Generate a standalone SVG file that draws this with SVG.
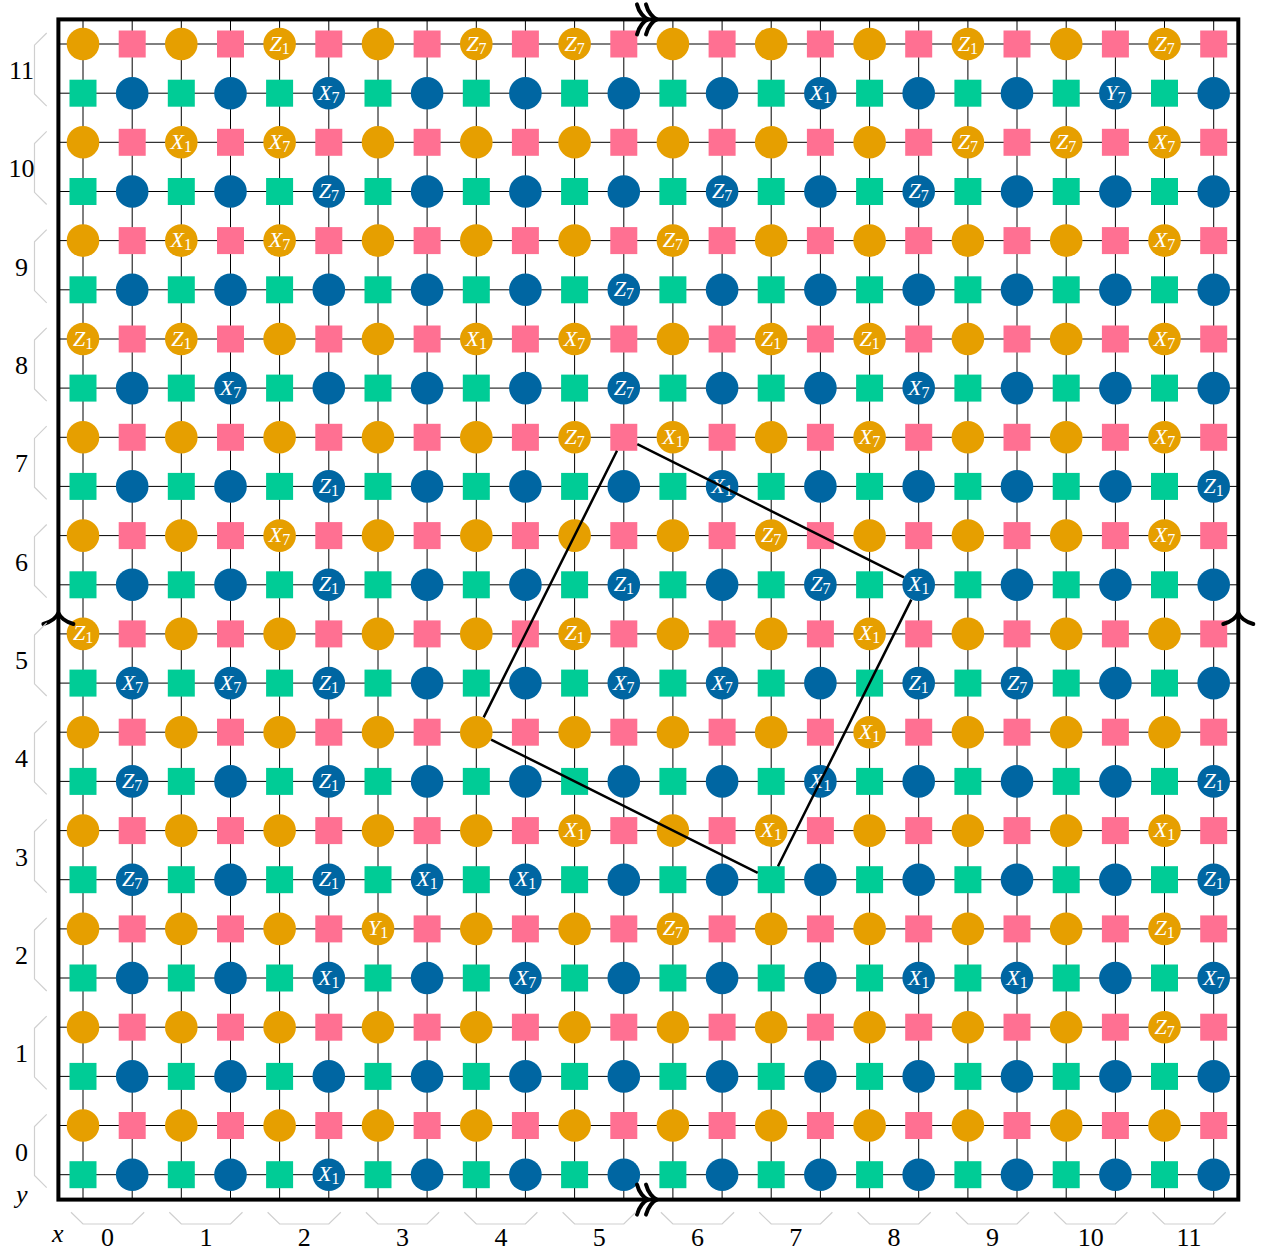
<svg xmlns="http://www.w3.org/2000/svg" xmlns:xlink="http://www.w3.org/1999/xlink" width="1261" height="1251" viewBox="0 0 1261 1251">
<style>
.gl{stroke:#000;stroke-width:1;fill:none}
.fr{stroke:#000;stroke-width:4;fill:none}
.ar{stroke:#000;stroke-width:4;fill:none;stroke-linecap:round;stroke-linejoin:round}
.cell{stroke:#000;stroke-width:2.5;fill:none}
.br{stroke:#cfcfcf;stroke-width:1.2;fill:none}
.ax{font-family:"Liberation Serif","DejaVu Serif",serif;font-size:26px;fill:#000;text-anchor:middle}
.axi{font-family:"Liberation Serif","DejaVu Serif",serif;font-size:26px;font-style:italic;fill:#000;text-anchor:middle}
text.l{font-family:"Liberation Serif","DejaVu Serif",serif;font-size:22px;font-style:italic;fill:#fff;text-anchor:middle}
text.l tspan{font-size:16px;font-style:normal}
</style>
<defs>
<circle id="A" r="16.3" fill="#E69F00"/>
<rect id="B" x="-13.5" y="-13.5" width="27" height="27" fill="#FF7092"/>
<rect id="C" x="-13.5" y="-13.5" width="27" height="27" fill="#00CC96"/>
<circle id="D" r="16.3" fill="#0066A2"/>
<path id="ah" d="M-11,-15 C-9,-7 -4,-1.5 0,0 C-4,1.5 -9,7 -11,15"/>
</defs>
<rect width="1261" height="1251" fill="#fff"/>
<g id="connectors" class="gl">
<path d="M83,19.4V1199.6M132.2,19.4V1199.6M181.3,19.4V1199.6M230.5,19.4V1199.6M279.6,19.4V1199.6M328.8,19.4V1199.6M378,19.4V1199.6M427.1,19.4V1199.6M476.3,19.4V1199.6M525.4,19.4V1199.6M574.6,19.4V1199.6M623.8,19.4V1199.6M672.9,19.4V1199.6M722.1,19.4V1199.6M771.2,19.4V1199.6M820.4,19.4V1199.6M869.6,19.4V1199.6M918.7,19.4V1199.6M967.9,19.4V1199.6M1017,19.4V1199.6M1066.2,19.4V1199.6M1115.4,19.4V1199.6M1164.5,19.4V1199.6M1213.7,19.4V1199.6"/>
<path d="M58.4,44H1238.3M58.4,93.2H1238.3M58.4,142.3H1238.3M58.4,191.5H1238.3M58.4,240.6H1238.3M58.4,289.8H1238.3M58.4,339H1238.3M58.4,388.1H1238.3M58.4,437.3H1238.3M58.4,486.4H1238.3M58.4,535.6H1238.3M58.4,584.8H1238.3M58.4,633.9H1238.3M58.4,683.1H1238.3M58.4,732.2H1238.3M58.4,781.4H1238.3M58.4,830.6H1238.3M58.4,879.7H1238.3M58.4,928.9H1238.3M58.4,978H1238.3M58.4,1027.2H1238.3M58.4,1076.4H1238.3M58.4,1125.5H1238.3M58.4,1174.7H1238.3"/>
</g>
<g id="nodes">
<g id="row0" transform="translate(0,44)">
<g id="n0-0"><use href="#A" x="83"/></g><g id="n0-1"><use href="#B" x="132.2"/></g><g id="n0-2"><use href="#A" x="181.3"/></g><g id="n0-3"><use href="#B" x="230.5"/></g>
<g id="n0-4"><use href="#A" x="279.6"/><text class="l" x="279.6" y="6.5">Z<tspan dy="3">1</tspan></text></g><g id="n0-5"><use href="#B" x="328.8"/></g><g id="n0-6"><use href="#A" x="378"/></g><g id="n0-7"><use href="#B" x="427.1"/></g>
<g id="n0-8"><use href="#A" x="476.3"/><text class="l" x="476.3" y="6.5">Z<tspan dy="3">7</tspan></text></g><g id="n0-9"><use href="#B" x="525.4"/></g><g id="n0-10"><use href="#A" x="574.6"/><text class="l" x="574.6" y="6.5">Z<tspan dy="3">7</tspan></text></g><g id="n0-11"><use href="#B" x="623.8"/></g>
<g id="n0-12"><use href="#A" x="672.9"/></g><g id="n0-13"><use href="#B" x="722.1"/></g><g id="n0-14"><use href="#A" x="771.2"/></g><g id="n0-15"><use href="#B" x="820.4"/></g>
<g id="n0-16"><use href="#A" x="869.6"/></g><g id="n0-17"><use href="#B" x="918.7"/></g><g id="n0-18"><use href="#A" x="967.9"/><text class="l" x="967.9" y="6.5">Z<tspan dy="3">1</tspan></text></g><g id="n0-19"><use href="#B" x="1017"/></g>
<g id="n0-20"><use href="#A" x="1066.2"/></g><g id="n0-21"><use href="#B" x="1115.4"/></g><g id="n0-22"><use href="#A" x="1164.5"/><text class="l" x="1164.5" y="6.5">Z<tspan dy="3">7</tspan></text></g><g id="n0-23"><use href="#B" x="1213.7"/></g>
</g>
<g id="row1" transform="translate(0,93.2)">
<g id="n1-0"><use href="#C" x="83"/></g><g id="n1-1"><use href="#D" x="132.2"/></g><g id="n1-2"><use href="#C" x="181.3"/></g><g id="n1-3"><use href="#D" x="230.5"/></g>
<g id="n1-4"><use href="#C" x="279.6"/></g><g id="n1-5"><use href="#D" x="328.8"/><text class="l" x="328.8" y="6.5">X<tspan dy="3">7</tspan></text></g><g id="n1-6"><use href="#C" x="378"/></g><g id="n1-7"><use href="#D" x="427.1"/></g>
<g id="n1-8"><use href="#C" x="476.3"/></g><g id="n1-9"><use href="#D" x="525.4"/></g><g id="n1-10"><use href="#C" x="574.6"/></g><g id="n1-11"><use href="#D" x="623.8"/></g>
<g id="n1-12"><use href="#C" x="672.9"/></g><g id="n1-13"><use href="#D" x="722.1"/></g><g id="n1-14"><use href="#C" x="771.2"/></g><g id="n1-15"><use href="#D" x="820.4"/><text class="l" x="820.4" y="6.5">X<tspan dy="3">1</tspan></text></g>
<g id="n1-16"><use href="#C" x="869.6"/></g><g id="n1-17"><use href="#D" x="918.7"/></g><g id="n1-18"><use href="#C" x="967.9"/></g><g id="n1-19"><use href="#D" x="1017"/></g>
<g id="n1-20"><use href="#C" x="1066.2"/></g><g id="n1-21"><use href="#D" x="1115.4"/><text class="l" x="1115.4" y="6.5">Y<tspan dy="3">7</tspan></text></g><g id="n1-22"><use href="#C" x="1164.5"/></g><g id="n1-23"><use href="#D" x="1213.7"/></g>
</g>
<g id="row2" transform="translate(0,142.3)">
<g id="n2-0"><use href="#A" x="83"/></g><g id="n2-1"><use href="#B" x="132.2"/></g><g id="n2-2"><use href="#A" x="181.3"/><text class="l" x="181.3" y="6.5">X<tspan dy="3">1</tspan></text></g><g id="n2-3"><use href="#B" x="230.5"/></g>
<g id="n2-4"><use href="#A" x="279.6"/><text class="l" x="279.6" y="6.5">X<tspan dy="3">7</tspan></text></g><g id="n2-5"><use href="#B" x="328.8"/></g><g id="n2-6"><use href="#A" x="378"/></g><g id="n2-7"><use href="#B" x="427.1"/></g>
<g id="n2-8"><use href="#A" x="476.3"/></g><g id="n2-9"><use href="#B" x="525.4"/></g><g id="n2-10"><use href="#A" x="574.6"/></g><g id="n2-11"><use href="#B" x="623.8"/></g>
<g id="n2-12"><use href="#A" x="672.9"/></g><g id="n2-13"><use href="#B" x="722.1"/></g><g id="n2-14"><use href="#A" x="771.2"/></g><g id="n2-15"><use href="#B" x="820.4"/></g>
<g id="n2-16"><use href="#A" x="869.6"/></g><g id="n2-17"><use href="#B" x="918.7"/></g><g id="n2-18"><use href="#A" x="967.9"/><text class="l" x="967.9" y="6.5">Z<tspan dy="3">7</tspan></text></g><g id="n2-19"><use href="#B" x="1017"/></g>
<g id="n2-20"><use href="#A" x="1066.2"/><text class="l" x="1066.2" y="6.5">Z<tspan dy="3">7</tspan></text></g><g id="n2-21"><use href="#B" x="1115.4"/></g><g id="n2-22"><use href="#A" x="1164.5"/><text class="l" x="1164.5" y="6.5">X<tspan dy="3">7</tspan></text></g><g id="n2-23"><use href="#B" x="1213.7"/></g>
</g>
<g id="row3" transform="translate(0,191.5)">
<g id="n3-0"><use href="#C" x="83"/></g><g id="n3-1"><use href="#D" x="132.2"/></g><g id="n3-2"><use href="#C" x="181.3"/></g><g id="n3-3"><use href="#D" x="230.5"/></g>
<g id="n3-4"><use href="#C" x="279.6"/></g><g id="n3-5"><use href="#D" x="328.8"/><text class="l" x="328.8" y="6.5">Z<tspan dy="3">7</tspan></text></g><g id="n3-6"><use href="#C" x="378"/></g><g id="n3-7"><use href="#D" x="427.1"/></g>
<g id="n3-8"><use href="#C" x="476.3"/></g><g id="n3-9"><use href="#D" x="525.4"/></g><g id="n3-10"><use href="#C" x="574.6"/></g><g id="n3-11"><use href="#D" x="623.8"/></g>
<g id="n3-12"><use href="#C" x="672.9"/></g><g id="n3-13"><use href="#D" x="722.1"/><text class="l" x="722.1" y="6.5">Z<tspan dy="3">7</tspan></text></g><g id="n3-14"><use href="#C" x="771.2"/></g><g id="n3-15"><use href="#D" x="820.4"/></g>
<g id="n3-16"><use href="#C" x="869.6"/></g><g id="n3-17"><use href="#D" x="918.7"/><text class="l" x="918.7" y="6.5">Z<tspan dy="3">7</tspan></text></g><g id="n3-18"><use href="#C" x="967.9"/></g><g id="n3-19"><use href="#D" x="1017"/></g>
<g id="n3-20"><use href="#C" x="1066.2"/></g><g id="n3-21"><use href="#D" x="1115.4"/></g><g id="n3-22"><use href="#C" x="1164.5"/></g><g id="n3-23"><use href="#D" x="1213.7"/></g>
</g>
<g id="row4" transform="translate(0,240.6)">
<g id="n4-0"><use href="#A" x="83"/></g><g id="n4-1"><use href="#B" x="132.2"/></g><g id="n4-2"><use href="#A" x="181.3"/><text class="l" x="181.3" y="6.5">X<tspan dy="3">1</tspan></text></g><g id="n4-3"><use href="#B" x="230.5"/></g>
<g id="n4-4"><use href="#A" x="279.6"/><text class="l" x="279.6" y="6.5">X<tspan dy="3">7</tspan></text></g><g id="n4-5"><use href="#B" x="328.8"/></g><g id="n4-6"><use href="#A" x="378"/></g><g id="n4-7"><use href="#B" x="427.1"/></g>
<g id="n4-8"><use href="#A" x="476.3"/></g><g id="n4-9"><use href="#B" x="525.4"/></g><g id="n4-10"><use href="#A" x="574.6"/></g><g id="n4-11"><use href="#B" x="623.8"/></g>
<g id="n4-12"><use href="#A" x="672.9"/><text class="l" x="672.9" y="6.5">Z<tspan dy="3">7</tspan></text></g><g id="n4-13"><use href="#B" x="722.1"/></g><g id="n4-14"><use href="#A" x="771.2"/></g><g id="n4-15"><use href="#B" x="820.4"/></g>
<g id="n4-16"><use href="#A" x="869.6"/></g><g id="n4-17"><use href="#B" x="918.7"/></g><g id="n4-18"><use href="#A" x="967.9"/></g><g id="n4-19"><use href="#B" x="1017"/></g>
<g id="n4-20"><use href="#A" x="1066.2"/></g><g id="n4-21"><use href="#B" x="1115.4"/></g><g id="n4-22"><use href="#A" x="1164.5"/><text class="l" x="1164.5" y="6.5">X<tspan dy="3">7</tspan></text></g><g id="n4-23"><use href="#B" x="1213.7"/></g>
</g>
<g id="row5" transform="translate(0,289.8)">
<g id="n5-0"><use href="#C" x="83"/></g><g id="n5-1"><use href="#D" x="132.2"/></g><g id="n5-2"><use href="#C" x="181.3"/></g><g id="n5-3"><use href="#D" x="230.5"/></g>
<g id="n5-4"><use href="#C" x="279.6"/></g><g id="n5-5"><use href="#D" x="328.8"/></g><g id="n5-6"><use href="#C" x="378"/></g><g id="n5-7"><use href="#D" x="427.1"/></g>
<g id="n5-8"><use href="#C" x="476.3"/></g><g id="n5-9"><use href="#D" x="525.4"/></g><g id="n5-10"><use href="#C" x="574.6"/></g><g id="n5-11"><use href="#D" x="623.8"/><text class="l" x="623.8" y="6.5">Z<tspan dy="3">7</tspan></text></g>
<g id="n5-12"><use href="#C" x="672.9"/></g><g id="n5-13"><use href="#D" x="722.1"/></g><g id="n5-14"><use href="#C" x="771.2"/></g><g id="n5-15"><use href="#D" x="820.4"/></g>
<g id="n5-16"><use href="#C" x="869.6"/></g><g id="n5-17"><use href="#D" x="918.7"/></g><g id="n5-18"><use href="#C" x="967.9"/></g><g id="n5-19"><use href="#D" x="1017"/></g>
<g id="n5-20"><use href="#C" x="1066.2"/></g><g id="n5-21"><use href="#D" x="1115.4"/></g><g id="n5-22"><use href="#C" x="1164.5"/></g><g id="n5-23"><use href="#D" x="1213.7"/></g>
</g>
<g id="row6" transform="translate(0,339)">
<g id="n6-0"><use href="#A" x="83"/><text class="l" x="83" y="6.5">Z<tspan dy="3">1</tspan></text></g><g id="n6-1"><use href="#B" x="132.2"/></g><g id="n6-2"><use href="#A" x="181.3"/><text class="l" x="181.3" y="6.5">Z<tspan dy="3">1</tspan></text></g><g id="n6-3"><use href="#B" x="230.5"/></g>
<g id="n6-4"><use href="#A" x="279.6"/></g><g id="n6-5"><use href="#B" x="328.8"/></g><g id="n6-6"><use href="#A" x="378"/></g><g id="n6-7"><use href="#B" x="427.1"/></g>
<g id="n6-8"><use href="#A" x="476.3"/><text class="l" x="476.3" y="6.5">X<tspan dy="3">1</tspan></text></g><g id="n6-9"><use href="#B" x="525.4"/></g><g id="n6-10"><use href="#A" x="574.6"/><text class="l" x="574.6" y="6.5">X<tspan dy="3">7</tspan></text></g><g id="n6-11"><use href="#B" x="623.8"/></g>
<g id="n6-12"><use href="#A" x="672.9"/></g><g id="n6-13"><use href="#B" x="722.1"/></g><g id="n6-14"><use href="#A" x="771.2"/><text class="l" x="771.2" y="6.5">Z<tspan dy="3">1</tspan></text></g><g id="n6-15"><use href="#B" x="820.4"/></g>
<g id="n6-16"><use href="#A" x="869.6"/><text class="l" x="869.6" y="6.5">Z<tspan dy="3">1</tspan></text></g><g id="n6-17"><use href="#B" x="918.7"/></g><g id="n6-18"><use href="#A" x="967.9"/></g><g id="n6-19"><use href="#B" x="1017"/></g>
<g id="n6-20"><use href="#A" x="1066.2"/></g><g id="n6-21"><use href="#B" x="1115.4"/></g><g id="n6-22"><use href="#A" x="1164.5"/><text class="l" x="1164.5" y="6.5">X<tspan dy="3">7</tspan></text></g><g id="n6-23"><use href="#B" x="1213.7"/></g>
</g>
<g id="row7" transform="translate(0,388.1)">
<g id="n7-0"><use href="#C" x="83"/></g><g id="n7-1"><use href="#D" x="132.2"/></g><g id="n7-2"><use href="#C" x="181.3"/></g><g id="n7-3"><use href="#D" x="230.5"/><text class="l" x="230.5" y="6.5">X<tspan dy="3">7</tspan></text></g>
<g id="n7-4"><use href="#C" x="279.6"/></g><g id="n7-5"><use href="#D" x="328.8"/></g><g id="n7-6"><use href="#C" x="378"/></g><g id="n7-7"><use href="#D" x="427.1"/></g>
<g id="n7-8"><use href="#C" x="476.3"/></g><g id="n7-9"><use href="#D" x="525.4"/></g><g id="n7-10"><use href="#C" x="574.6"/></g><g id="n7-11"><use href="#D" x="623.8"/><text class="l" x="623.8" y="6.5">Z<tspan dy="3">7</tspan></text></g>
<g id="n7-12"><use href="#C" x="672.9"/></g><g id="n7-13"><use href="#D" x="722.1"/></g><g id="n7-14"><use href="#C" x="771.2"/></g><g id="n7-15"><use href="#D" x="820.4"/></g>
<g id="n7-16"><use href="#C" x="869.6"/></g><g id="n7-17"><use href="#D" x="918.7"/><text class="l" x="918.7" y="6.5">X<tspan dy="3">7</tspan></text></g><g id="n7-18"><use href="#C" x="967.9"/></g><g id="n7-19"><use href="#D" x="1017"/></g>
<g id="n7-20"><use href="#C" x="1066.2"/></g><g id="n7-21"><use href="#D" x="1115.4"/></g><g id="n7-22"><use href="#C" x="1164.5"/></g><g id="n7-23"><use href="#D" x="1213.7"/></g>
</g>
<g id="row8" transform="translate(0,437.3)">
<g id="n8-0"><use href="#A" x="83"/></g><g id="n8-1"><use href="#B" x="132.2"/></g><g id="n8-2"><use href="#A" x="181.3"/></g><g id="n8-3"><use href="#B" x="230.5"/></g>
<g id="n8-4"><use href="#A" x="279.6"/></g><g id="n8-5"><use href="#B" x="328.8"/></g><g id="n8-6"><use href="#A" x="378"/></g><g id="n8-7"><use href="#B" x="427.1"/></g>
<g id="n8-8"><use href="#A" x="476.3"/></g><g id="n8-9"><use href="#B" x="525.4"/></g><g id="n8-10"><use href="#A" x="574.6"/><text class="l" x="574.6" y="6.5">Z<tspan dy="3">7</tspan></text></g><g id="n8-11"><use href="#B" x="623.8"/></g>
<g id="n8-12"><use href="#A" x="672.9"/><text class="l" x="672.9" y="6.5">X<tspan dy="3">1</tspan></text></g><g id="n8-13"><use href="#B" x="722.1"/></g><g id="n8-14"><use href="#A" x="771.2"/></g><g id="n8-15"><use href="#B" x="820.4"/></g>
<g id="n8-16"><use href="#A" x="869.6"/><text class="l" x="869.6" y="6.5">X<tspan dy="3">7</tspan></text></g><g id="n8-17"><use href="#B" x="918.7"/></g><g id="n8-18"><use href="#A" x="967.9"/></g><g id="n8-19"><use href="#B" x="1017"/></g>
<g id="n8-20"><use href="#A" x="1066.2"/></g><g id="n8-21"><use href="#B" x="1115.4"/></g><g id="n8-22"><use href="#A" x="1164.5"/><text class="l" x="1164.5" y="6.5">X<tspan dy="3">7</tspan></text></g><g id="n8-23"><use href="#B" x="1213.7"/></g>
</g>
<g id="row9" transform="translate(0,486.4)">
<g id="n9-0"><use href="#C" x="83"/></g><g id="n9-1"><use href="#D" x="132.2"/></g><g id="n9-2"><use href="#C" x="181.3"/></g><g id="n9-3"><use href="#D" x="230.5"/></g>
<g id="n9-4"><use href="#C" x="279.6"/></g><g id="n9-5"><use href="#D" x="328.8"/><text class="l" x="328.8" y="6.5">Z<tspan dy="3">1</tspan></text></g><g id="n9-6"><use href="#C" x="378"/></g><g id="n9-7"><use href="#D" x="427.1"/></g>
<g id="n9-8"><use href="#C" x="476.3"/></g><g id="n9-9"><use href="#D" x="525.4"/></g><g id="n9-10"><use href="#C" x="574.6"/></g><g id="n9-11"><use href="#D" x="623.8"/></g>
<g id="n9-12"><use href="#C" x="672.9"/></g><g id="n9-13"><use href="#D" x="722.1"/><text class="l" x="722.1" y="6.5">X<tspan dy="3">1</tspan></text></g><g id="n9-14"><use href="#C" x="771.2"/></g><g id="n9-15"><use href="#D" x="820.4"/></g>
<g id="n9-16"><use href="#C" x="869.6"/></g><g id="n9-17"><use href="#D" x="918.7"/></g><g id="n9-18"><use href="#C" x="967.9"/></g><g id="n9-19"><use href="#D" x="1017"/></g>
<g id="n9-20"><use href="#C" x="1066.2"/></g><g id="n9-21"><use href="#D" x="1115.4"/></g><g id="n9-22"><use href="#C" x="1164.5"/></g><g id="n9-23"><use href="#D" x="1213.7"/><text class="l" x="1213.7" y="6.5">Z<tspan dy="3">1</tspan></text></g>
</g>
<g id="row10" transform="translate(0,535.6)">
<g id="n10-0"><use href="#A" x="83"/></g><g id="n10-1"><use href="#B" x="132.2"/></g><g id="n10-2"><use href="#A" x="181.3"/></g><g id="n10-3"><use href="#B" x="230.5"/></g>
<g id="n10-4"><use href="#A" x="279.6"/><text class="l" x="279.6" y="6.5">X<tspan dy="3">7</tspan></text></g><g id="n10-5"><use href="#B" x="328.8"/></g><g id="n10-6"><use href="#A" x="378"/></g><g id="n10-7"><use href="#B" x="427.1"/></g>
<g id="n10-8"><use href="#A" x="476.3"/></g><g id="n10-9"><use href="#B" x="525.4"/></g><g id="n10-10"><use href="#A" x="574.6"/></g><g id="n10-11"><use href="#B" x="623.8"/></g>
<g id="n10-12"><use href="#A" x="672.9"/></g><g id="n10-13"><use href="#B" x="722.1"/></g><g id="n10-14"><use href="#A" x="771.2"/><text class="l" x="771.2" y="6.5">Z<tspan dy="3">7</tspan></text></g><g id="n10-15"><use href="#B" x="820.4"/></g>
<g id="n10-16"><use href="#A" x="869.6"/></g><g id="n10-17"><use href="#B" x="918.7"/></g><g id="n10-18"><use href="#A" x="967.9"/></g><g id="n10-19"><use href="#B" x="1017"/></g>
<g id="n10-20"><use href="#A" x="1066.2"/></g><g id="n10-21"><use href="#B" x="1115.4"/></g><g id="n10-22"><use href="#A" x="1164.5"/><text class="l" x="1164.5" y="6.5">X<tspan dy="3">7</tspan></text></g><g id="n10-23"><use href="#B" x="1213.7"/></g>
</g>
<g id="row11" transform="translate(0,584.8)">
<g id="n11-0"><use href="#C" x="83"/></g><g id="n11-1"><use href="#D" x="132.2"/></g><g id="n11-2"><use href="#C" x="181.3"/></g><g id="n11-3"><use href="#D" x="230.5"/></g>
<g id="n11-4"><use href="#C" x="279.6"/></g><g id="n11-5"><use href="#D" x="328.8"/><text class="l" x="328.8" y="6.5">Z<tspan dy="3">1</tspan></text></g><g id="n11-6"><use href="#C" x="378"/></g><g id="n11-7"><use href="#D" x="427.1"/></g>
<g id="n11-8"><use href="#C" x="476.3"/></g><g id="n11-9"><use href="#D" x="525.4"/></g><g id="n11-10"><use href="#C" x="574.6"/></g><g id="n11-11"><use href="#D" x="623.8"/><text class="l" x="623.8" y="6.5">Z<tspan dy="3">1</tspan></text></g>
<g id="n11-12"><use href="#C" x="672.9"/></g><g id="n11-13"><use href="#D" x="722.1"/></g><g id="n11-14"><use href="#C" x="771.2"/></g><g id="n11-15"><use href="#D" x="820.4"/><text class="l" x="820.4" y="6.5">Z<tspan dy="3">7</tspan></text></g>
<g id="n11-16"><use href="#C" x="869.6"/></g><g id="n11-17"><use href="#D" x="918.7"/><text class="l" x="918.7" y="6.5">X<tspan dy="3">1</tspan></text></g><g id="n11-18"><use href="#C" x="967.9"/></g><g id="n11-19"><use href="#D" x="1017"/></g>
<g id="n11-20"><use href="#C" x="1066.2"/></g><g id="n11-21"><use href="#D" x="1115.4"/></g><g id="n11-22"><use href="#C" x="1164.5"/></g><g id="n11-23"><use href="#D" x="1213.7"/></g>
</g>
<g id="row12" transform="translate(0,633.9)">
<g id="n12-0"><use href="#A" x="83"/><text class="l" x="83" y="6.5">Z<tspan dy="3">1</tspan></text></g><g id="n12-1"><use href="#B" x="132.2"/></g><g id="n12-2"><use href="#A" x="181.3"/></g><g id="n12-3"><use href="#B" x="230.5"/></g>
<g id="n12-4"><use href="#A" x="279.6"/></g><g id="n12-5"><use href="#B" x="328.8"/></g><g id="n12-6"><use href="#A" x="378"/></g><g id="n12-7"><use href="#B" x="427.1"/></g>
<g id="n12-8"><use href="#A" x="476.3"/></g><g id="n12-9"><use href="#B" x="525.4"/></g><g id="n12-10"><use href="#A" x="574.6"/><text class="l" x="574.6" y="6.5">Z<tspan dy="3">1</tspan></text></g><g id="n12-11"><use href="#B" x="623.8"/></g>
<g id="n12-12"><use href="#A" x="672.9"/></g><g id="n12-13"><use href="#B" x="722.1"/></g><g id="n12-14"><use href="#A" x="771.2"/></g><g id="n12-15"><use href="#B" x="820.4"/></g>
<g id="n12-16"><use href="#A" x="869.6"/><text class="l" x="869.6" y="6.5">X<tspan dy="3">1</tspan></text></g><g id="n12-17"><use href="#B" x="918.7"/></g><g id="n12-18"><use href="#A" x="967.9"/></g><g id="n12-19"><use href="#B" x="1017"/></g>
<g id="n12-20"><use href="#A" x="1066.2"/></g><g id="n12-21"><use href="#B" x="1115.4"/></g><g id="n12-22"><use href="#A" x="1164.5"/></g><g id="n12-23"><use href="#B" x="1213.7"/></g>
</g>
<g id="row13" transform="translate(0,683.1)">
<g id="n13-0"><use href="#C" x="83"/></g><g id="n13-1"><use href="#D" x="132.2"/><text class="l" x="132.2" y="6.5">X<tspan dy="3">7</tspan></text></g><g id="n13-2"><use href="#C" x="181.3"/></g><g id="n13-3"><use href="#D" x="230.5"/><text class="l" x="230.5" y="6.5">X<tspan dy="3">7</tspan></text></g>
<g id="n13-4"><use href="#C" x="279.6"/></g><g id="n13-5"><use href="#D" x="328.8"/><text class="l" x="328.8" y="6.5">Z<tspan dy="3">1</tspan></text></g><g id="n13-6"><use href="#C" x="378"/></g><g id="n13-7"><use href="#D" x="427.1"/></g>
<g id="n13-8"><use href="#C" x="476.3"/></g><g id="n13-9"><use href="#D" x="525.4"/></g><g id="n13-10"><use href="#C" x="574.6"/></g><g id="n13-11"><use href="#D" x="623.8"/><text class="l" x="623.8" y="6.5">X<tspan dy="3">7</tspan></text></g>
<g id="n13-12"><use href="#C" x="672.9"/></g><g id="n13-13"><use href="#D" x="722.1"/><text class="l" x="722.1" y="6.5">X<tspan dy="3">7</tspan></text></g><g id="n13-14"><use href="#C" x="771.2"/></g><g id="n13-15"><use href="#D" x="820.4"/></g>
<g id="n13-16"><use href="#C" x="869.6"/></g><g id="n13-17"><use href="#D" x="918.7"/><text class="l" x="918.7" y="6.5">Z<tspan dy="3">1</tspan></text></g><g id="n13-18"><use href="#C" x="967.9"/></g><g id="n13-19"><use href="#D" x="1017"/><text class="l" x="1017" y="6.5">Z<tspan dy="3">7</tspan></text></g>
<g id="n13-20"><use href="#C" x="1066.2"/></g><g id="n13-21"><use href="#D" x="1115.4"/></g><g id="n13-22"><use href="#C" x="1164.5"/></g><g id="n13-23"><use href="#D" x="1213.7"/></g>
</g>
<g id="row14" transform="translate(0,732.2)">
<g id="n14-0"><use href="#A" x="83"/></g><g id="n14-1"><use href="#B" x="132.2"/></g><g id="n14-2"><use href="#A" x="181.3"/></g><g id="n14-3"><use href="#B" x="230.5"/></g>
<g id="n14-4"><use href="#A" x="279.6"/></g><g id="n14-5"><use href="#B" x="328.8"/></g><g id="n14-6"><use href="#A" x="378"/></g><g id="n14-7"><use href="#B" x="427.1"/></g>
<g id="n14-8"><use href="#A" x="476.3"/></g><g id="n14-9"><use href="#B" x="525.4"/></g><g id="n14-10"><use href="#A" x="574.6"/></g><g id="n14-11"><use href="#B" x="623.8"/></g>
<g id="n14-12"><use href="#A" x="672.9"/></g><g id="n14-13"><use href="#B" x="722.1"/></g><g id="n14-14"><use href="#A" x="771.2"/></g><g id="n14-15"><use href="#B" x="820.4"/></g>
<g id="n14-16"><use href="#A" x="869.6"/><text class="l" x="869.6" y="6.5">X<tspan dy="3">1</tspan></text></g><g id="n14-17"><use href="#B" x="918.7"/></g><g id="n14-18"><use href="#A" x="967.9"/></g><g id="n14-19"><use href="#B" x="1017"/></g>
<g id="n14-20"><use href="#A" x="1066.2"/></g><g id="n14-21"><use href="#B" x="1115.4"/></g><g id="n14-22"><use href="#A" x="1164.5"/></g><g id="n14-23"><use href="#B" x="1213.7"/></g>
</g>
<g id="row15" transform="translate(0,781.4)">
<g id="n15-0"><use href="#C" x="83"/></g><g id="n15-1"><use href="#D" x="132.2"/><text class="l" x="132.2" y="6.5">Z<tspan dy="3">7</tspan></text></g><g id="n15-2"><use href="#C" x="181.3"/></g><g id="n15-3"><use href="#D" x="230.5"/></g>
<g id="n15-4"><use href="#C" x="279.6"/></g><g id="n15-5"><use href="#D" x="328.8"/><text class="l" x="328.8" y="6.5">Z<tspan dy="3">1</tspan></text></g><g id="n15-6"><use href="#C" x="378"/></g><g id="n15-7"><use href="#D" x="427.1"/></g>
<g id="n15-8"><use href="#C" x="476.3"/></g><g id="n15-9"><use href="#D" x="525.4"/></g><g id="n15-10"><use href="#C" x="574.6"/></g><g id="n15-11"><use href="#D" x="623.8"/></g>
<g id="n15-12"><use href="#C" x="672.9"/></g><g id="n15-13"><use href="#D" x="722.1"/></g><g id="n15-14"><use href="#C" x="771.2"/></g><g id="n15-15"><use href="#D" x="820.4"/><text class="l" x="820.4" y="6.5">X<tspan dy="3">1</tspan></text></g>
<g id="n15-16"><use href="#C" x="869.6"/></g><g id="n15-17"><use href="#D" x="918.7"/></g><g id="n15-18"><use href="#C" x="967.9"/></g><g id="n15-19"><use href="#D" x="1017"/></g>
<g id="n15-20"><use href="#C" x="1066.2"/></g><g id="n15-21"><use href="#D" x="1115.4"/></g><g id="n15-22"><use href="#C" x="1164.5"/></g><g id="n15-23"><use href="#D" x="1213.7"/><text class="l" x="1213.7" y="6.5">Z<tspan dy="3">1</tspan></text></g>
</g>
<g id="row16" transform="translate(0,830.6)">
<g id="n16-0"><use href="#A" x="83"/></g><g id="n16-1"><use href="#B" x="132.2"/></g><g id="n16-2"><use href="#A" x="181.3"/></g><g id="n16-3"><use href="#B" x="230.5"/></g>
<g id="n16-4"><use href="#A" x="279.6"/></g><g id="n16-5"><use href="#B" x="328.8"/></g><g id="n16-6"><use href="#A" x="378"/></g><g id="n16-7"><use href="#B" x="427.1"/></g>
<g id="n16-8"><use href="#A" x="476.3"/></g><g id="n16-9"><use href="#B" x="525.4"/></g><g id="n16-10"><use href="#A" x="574.6"/><text class="l" x="574.6" y="6.5">X<tspan dy="3">1</tspan></text></g><g id="n16-11"><use href="#B" x="623.8"/></g>
<g id="n16-12"><use href="#A" x="672.9"/></g><g id="n16-13"><use href="#B" x="722.1"/></g><g id="n16-14"><use href="#A" x="771.2"/><text class="l" x="771.2" y="6.5">X<tspan dy="3">1</tspan></text></g><g id="n16-15"><use href="#B" x="820.4"/></g>
<g id="n16-16"><use href="#A" x="869.6"/></g><g id="n16-17"><use href="#B" x="918.7"/></g><g id="n16-18"><use href="#A" x="967.9"/></g><g id="n16-19"><use href="#B" x="1017"/></g>
<g id="n16-20"><use href="#A" x="1066.2"/></g><g id="n16-21"><use href="#B" x="1115.4"/></g><g id="n16-22"><use href="#A" x="1164.5"/><text class="l" x="1164.5" y="6.5">X<tspan dy="3">1</tspan></text></g><g id="n16-23"><use href="#B" x="1213.7"/></g>
</g>
<g id="row17" transform="translate(0,879.7)">
<g id="n17-0"><use href="#C" x="83"/></g><g id="n17-1"><use href="#D" x="132.2"/><text class="l" x="132.2" y="6.5">Z<tspan dy="3">7</tspan></text></g><g id="n17-2"><use href="#C" x="181.3"/></g><g id="n17-3"><use href="#D" x="230.5"/></g>
<g id="n17-4"><use href="#C" x="279.6"/></g><g id="n17-5"><use href="#D" x="328.8"/><text class="l" x="328.8" y="6.5">Z<tspan dy="3">1</tspan></text></g><g id="n17-6"><use href="#C" x="378"/></g><g id="n17-7"><use href="#D" x="427.1"/><text class="l" x="427.1" y="6.5">X<tspan dy="3">1</tspan></text></g>
<g id="n17-8"><use href="#C" x="476.3"/></g><g id="n17-9"><use href="#D" x="525.4"/><text class="l" x="525.4" y="6.5">X<tspan dy="3">1</tspan></text></g><g id="n17-10"><use href="#C" x="574.6"/></g><g id="n17-11"><use href="#D" x="623.8"/></g>
<g id="n17-12"><use href="#C" x="672.9"/></g><g id="n17-13"><use href="#D" x="722.1"/></g><g id="n17-14"><use href="#C" x="771.2"/></g><g id="n17-15"><use href="#D" x="820.4"/></g>
<g id="n17-16"><use href="#C" x="869.6"/></g><g id="n17-17"><use href="#D" x="918.7"/></g><g id="n17-18"><use href="#C" x="967.9"/></g><g id="n17-19"><use href="#D" x="1017"/></g>
<g id="n17-20"><use href="#C" x="1066.2"/></g><g id="n17-21"><use href="#D" x="1115.4"/></g><g id="n17-22"><use href="#C" x="1164.5"/></g><g id="n17-23"><use href="#D" x="1213.7"/><text class="l" x="1213.7" y="6.5">Z<tspan dy="3">1</tspan></text></g>
</g>
<g id="row18" transform="translate(0,928.9)">
<g id="n18-0"><use href="#A" x="83"/></g><g id="n18-1"><use href="#B" x="132.2"/></g><g id="n18-2"><use href="#A" x="181.3"/></g><g id="n18-3"><use href="#B" x="230.5"/></g>
<g id="n18-4"><use href="#A" x="279.6"/></g><g id="n18-5"><use href="#B" x="328.8"/></g><g id="n18-6"><use href="#A" x="378"/><text class="l" x="378" y="6.5">Y<tspan dy="3">1</tspan></text></g><g id="n18-7"><use href="#B" x="427.1"/></g>
<g id="n18-8"><use href="#A" x="476.3"/></g><g id="n18-9"><use href="#B" x="525.4"/></g><g id="n18-10"><use href="#A" x="574.6"/></g><g id="n18-11"><use href="#B" x="623.8"/></g>
<g id="n18-12"><use href="#A" x="672.9"/><text class="l" x="672.9" y="6.5">Z<tspan dy="3">7</tspan></text></g><g id="n18-13"><use href="#B" x="722.1"/></g><g id="n18-14"><use href="#A" x="771.2"/></g><g id="n18-15"><use href="#B" x="820.4"/></g>
<g id="n18-16"><use href="#A" x="869.6"/></g><g id="n18-17"><use href="#B" x="918.7"/></g><g id="n18-18"><use href="#A" x="967.9"/></g><g id="n18-19"><use href="#B" x="1017"/></g>
<g id="n18-20"><use href="#A" x="1066.2"/></g><g id="n18-21"><use href="#B" x="1115.4"/></g><g id="n18-22"><use href="#A" x="1164.5"/><text class="l" x="1164.5" y="6.5">Z<tspan dy="3">1</tspan></text></g><g id="n18-23"><use href="#B" x="1213.7"/></g>
</g>
<g id="row19" transform="translate(0,978)">
<g id="n19-0"><use href="#C" x="83"/></g><g id="n19-1"><use href="#D" x="132.2"/></g><g id="n19-2"><use href="#C" x="181.3"/></g><g id="n19-3"><use href="#D" x="230.5"/></g>
<g id="n19-4"><use href="#C" x="279.6"/></g><g id="n19-5"><use href="#D" x="328.8"/><text class="l" x="328.8" y="6.5">X<tspan dy="3">1</tspan></text></g><g id="n19-6"><use href="#C" x="378"/></g><g id="n19-7"><use href="#D" x="427.1"/></g>
<g id="n19-8"><use href="#C" x="476.3"/></g><g id="n19-9"><use href="#D" x="525.4"/><text class="l" x="525.4" y="6.5">X<tspan dy="3">7</tspan></text></g><g id="n19-10"><use href="#C" x="574.6"/></g><g id="n19-11"><use href="#D" x="623.8"/></g>
<g id="n19-12"><use href="#C" x="672.9"/></g><g id="n19-13"><use href="#D" x="722.1"/></g><g id="n19-14"><use href="#C" x="771.2"/></g><g id="n19-15"><use href="#D" x="820.4"/></g>
<g id="n19-16"><use href="#C" x="869.6"/></g><g id="n19-17"><use href="#D" x="918.7"/><text class="l" x="918.7" y="6.5">X<tspan dy="3">1</tspan></text></g><g id="n19-18"><use href="#C" x="967.9"/></g><g id="n19-19"><use href="#D" x="1017"/><text class="l" x="1017" y="6.5">X<tspan dy="3">1</tspan></text></g>
<g id="n19-20"><use href="#C" x="1066.2"/></g><g id="n19-21"><use href="#D" x="1115.4"/></g><g id="n19-22"><use href="#C" x="1164.5"/></g><g id="n19-23"><use href="#D" x="1213.7"/><text class="l" x="1213.7" y="6.5">X<tspan dy="3">7</tspan></text></g>
</g>
<g id="row20" transform="translate(0,1027.2)">
<g id="n20-0"><use href="#A" x="83"/></g><g id="n20-1"><use href="#B" x="132.2"/></g><g id="n20-2"><use href="#A" x="181.3"/></g><g id="n20-3"><use href="#B" x="230.5"/></g>
<g id="n20-4"><use href="#A" x="279.6"/></g><g id="n20-5"><use href="#B" x="328.8"/></g><g id="n20-6"><use href="#A" x="378"/></g><g id="n20-7"><use href="#B" x="427.1"/></g>
<g id="n20-8"><use href="#A" x="476.3"/></g><g id="n20-9"><use href="#B" x="525.4"/></g><g id="n20-10"><use href="#A" x="574.6"/></g><g id="n20-11"><use href="#B" x="623.8"/></g>
<g id="n20-12"><use href="#A" x="672.9"/></g><g id="n20-13"><use href="#B" x="722.1"/></g><g id="n20-14"><use href="#A" x="771.2"/></g><g id="n20-15"><use href="#B" x="820.4"/></g>
<g id="n20-16"><use href="#A" x="869.6"/></g><g id="n20-17"><use href="#B" x="918.7"/></g><g id="n20-18"><use href="#A" x="967.9"/></g><g id="n20-19"><use href="#B" x="1017"/></g>
<g id="n20-20"><use href="#A" x="1066.2"/></g><g id="n20-21"><use href="#B" x="1115.4"/></g><g id="n20-22"><use href="#A" x="1164.5"/><text class="l" x="1164.5" y="6.5">Z<tspan dy="3">7</tspan></text></g><g id="n20-23"><use href="#B" x="1213.7"/></g>
</g>
<g id="row21" transform="translate(0,1076.4)">
<g id="n21-0"><use href="#C" x="83"/></g><g id="n21-1"><use href="#D" x="132.2"/></g><g id="n21-2"><use href="#C" x="181.3"/></g><g id="n21-3"><use href="#D" x="230.5"/></g>
<g id="n21-4"><use href="#C" x="279.6"/></g><g id="n21-5"><use href="#D" x="328.8"/></g><g id="n21-6"><use href="#C" x="378"/></g><g id="n21-7"><use href="#D" x="427.1"/></g>
<g id="n21-8"><use href="#C" x="476.3"/></g><g id="n21-9"><use href="#D" x="525.4"/></g><g id="n21-10"><use href="#C" x="574.6"/></g><g id="n21-11"><use href="#D" x="623.8"/></g>
<g id="n21-12"><use href="#C" x="672.9"/></g><g id="n21-13"><use href="#D" x="722.1"/></g><g id="n21-14"><use href="#C" x="771.2"/></g><g id="n21-15"><use href="#D" x="820.4"/></g>
<g id="n21-16"><use href="#C" x="869.6"/></g><g id="n21-17"><use href="#D" x="918.7"/></g><g id="n21-18"><use href="#C" x="967.9"/></g><g id="n21-19"><use href="#D" x="1017"/></g>
<g id="n21-20"><use href="#C" x="1066.2"/></g><g id="n21-21"><use href="#D" x="1115.4"/></g><g id="n21-22"><use href="#C" x="1164.5"/></g><g id="n21-23"><use href="#D" x="1213.7"/></g>
</g>
<g id="row22" transform="translate(0,1125.5)">
<g id="n22-0"><use href="#A" x="83"/></g><g id="n22-1"><use href="#B" x="132.2"/></g><g id="n22-2"><use href="#A" x="181.3"/></g><g id="n22-3"><use href="#B" x="230.5"/></g>
<g id="n22-4"><use href="#A" x="279.6"/></g><g id="n22-5"><use href="#B" x="328.8"/></g><g id="n22-6"><use href="#A" x="378"/></g><g id="n22-7"><use href="#B" x="427.1"/></g>
<g id="n22-8"><use href="#A" x="476.3"/></g><g id="n22-9"><use href="#B" x="525.4"/></g><g id="n22-10"><use href="#A" x="574.6"/></g><g id="n22-11"><use href="#B" x="623.8"/></g>
<g id="n22-12"><use href="#A" x="672.9"/></g><g id="n22-13"><use href="#B" x="722.1"/></g><g id="n22-14"><use href="#A" x="771.2"/></g><g id="n22-15"><use href="#B" x="820.4"/></g>
<g id="n22-16"><use href="#A" x="869.6"/></g><g id="n22-17"><use href="#B" x="918.7"/></g><g id="n22-18"><use href="#A" x="967.9"/></g><g id="n22-19"><use href="#B" x="1017"/></g>
<g id="n22-20"><use href="#A" x="1066.2"/></g><g id="n22-21"><use href="#B" x="1115.4"/></g><g id="n22-22"><use href="#A" x="1164.5"/></g><g id="n22-23"><use href="#B" x="1213.7"/></g>
</g>
<g id="row23" transform="translate(0,1174.7)">
<g id="n23-0"><use href="#C" x="83"/></g><g id="n23-1"><use href="#D" x="132.2"/></g><g id="n23-2"><use href="#C" x="181.3"/></g><g id="n23-3"><use href="#D" x="230.5"/></g>
<g id="n23-4"><use href="#C" x="279.6"/></g><g id="n23-5"><use href="#D" x="328.8"/><text class="l" x="328.8" y="6.5">X<tspan dy="3">1</tspan></text></g><g id="n23-6"><use href="#C" x="378"/></g><g id="n23-7"><use href="#D" x="427.1"/></g>
<g id="n23-8"><use href="#C" x="476.3"/></g><g id="n23-9"><use href="#D" x="525.4"/></g><g id="n23-10"><use href="#C" x="574.6"/></g><g id="n23-11"><use href="#D" x="623.8"/></g>
<g id="n23-12"><use href="#C" x="672.9"/></g><g id="n23-13"><use href="#D" x="722.1"/></g><g id="n23-14"><use href="#C" x="771.2"/></g><g id="n23-15"><use href="#D" x="820.4"/></g>
<g id="n23-16"><use href="#C" x="869.6"/></g><g id="n23-17"><use href="#D" x="918.7"/></g><g id="n23-18"><use href="#C" x="967.9"/></g><g id="n23-19"><use href="#D" x="1017"/></g>
<g id="n23-20"><use href="#C" x="1066.2"/></g><g id="n23-21"><use href="#D" x="1115.4"/></g><g id="n23-22"><use href="#C" x="1164.5"/></g><g id="n23-23"><use href="#D" x="1213.7"/></g>
</g>
</g>
<g id="cell" class="cell">
<path d="M637.3,444.1L904,577.4M911.3,599.6L778,866.2M757.7,872.9L491.1,739.6M483.7,717.4L617,450.8"/>
</g>
<g id="frame">
<rect class="fr" x="58.4" y="19.4" width="1179.9" height="1180.2"/>
<use href="#ah" class="ar" transform="translate(648,19.4)"/>
<use href="#ah" class="ar" transform="translate(657,19.4)"/>
<use href="#ah" class="ar" transform="translate(648,1199.6)"/>
<use href="#ah" class="ar" transform="translate(657,1199.6)"/>
<use href="#ah" class="ar" transform="translate(58.4,613) rotate(-90)"/>
<use href="#ah" class="ar" transform="translate(1238.3,613) rotate(-90)"/>
</g>
<g id="yaxis">
<path class="br" d="M46.7,33L34.5,45.2V94L46.7,106.2M46.7,131.3L34.5,143.5V192.3L46.7,204.5M46.7,229.6L34.5,241.8V290.6L46.7,302.8M46.7,327.9L34.5,340.1V388.9L46.7,401.1M46.7,426.2L34.5,438.4V487.2L46.7,499.4M46.7,524.5L34.5,536.7V585.5L46.7,597.7M46.7,622.8L34.5,635V683.8L46.7,696M46.7,721.1L34.5,733.3V782.1L46.7,794.3M46.7,819.4L34.5,831.6V880.4L46.7,892.6M46.7,917.8L34.5,930V978.8L46.7,991M46.7,1016.1L34.5,1028.3V1077.1L46.7,1089.3M46.7,1114.4L34.5,1126.6V1175.4L46.7,1187.6"/>
<text class="ax" x="21.5" y="79.1">11</text>
<text class="ax" x="21.5" y="177.4">10</text>
<text class="ax" x="21.5" y="275.7">9</text>
<text class="ax" x="21.5" y="374">8</text>
<text class="ax" x="21.5" y="472.4">7</text>
<text class="ax" x="21.5" y="570.7">6</text>
<text class="ax" x="21.5" y="669">5</text>
<text class="ax" x="21.5" y="767.3">4</text>
<text class="ax" x="21.5" y="865.6">3</text>
<text class="ax" x="21.5" y="964">2</text>
<text class="ax" x="21.5" y="1062.3">1</text>
<text class="ax" x="21.5" y="1160.6">0</text>
<text class="axi" x="21.7" y="1203">y</text>
</g>
<g id="xaxis">
<path class="br" d="M71,1212.3L83,1224H132.2L144.2,1212.3M169.3,1212.3L181.3,1224H230.5L242.5,1212.3M267.6,1212.3L279.6,1224H328.8L340.8,1212.3M365.9,1212.3L377.9,1224H427.1L439.1,1212.3M464.3,1212.3L476.3,1224H525.4L537.4,1212.3M562.6,1212.3L574.6,1224H623.8L635.8,1212.3M660.9,1212.3L672.9,1224H722.1L734.1,1212.3M759.2,1212.3L771.2,1224H820.4L832.4,1212.3M857.6,1212.3L869.6,1224H918.7L930.7,1212.3M955.9,1212.3L967.9,1224H1017L1029,1212.3M1054.2,1212.3L1066.2,1224H1115.4L1127.4,1212.3M1152.5,1212.3L1164.5,1224H1213.7L1225.7,1212.3"/>
<text class="ax" x="107.6" y="1245.5">0</text>
<text class="ax" x="205.9" y="1245.5">1</text>
<text class="ax" x="304.2" y="1245.5">2</text>
<text class="ax" x="402.5" y="1245.5">3</text>
<text class="ax" x="500.9" y="1245.5">4</text>
<text class="ax" x="599.2" y="1245.5">5</text>
<text class="ax" x="697.5" y="1245.5">6</text>
<text class="ax" x="795.8" y="1245.5">7</text>
<text class="ax" x="894.1" y="1245.5">8</text>
<text class="ax" x="992.5" y="1245.5">9</text>
<text class="ax" x="1090.8" y="1245.5">10</text>
<text class="ax" x="1189.1" y="1245.5">11</text>
<text class="axi" x="57.8" y="1241.7">x</text>
</g>
</svg>
